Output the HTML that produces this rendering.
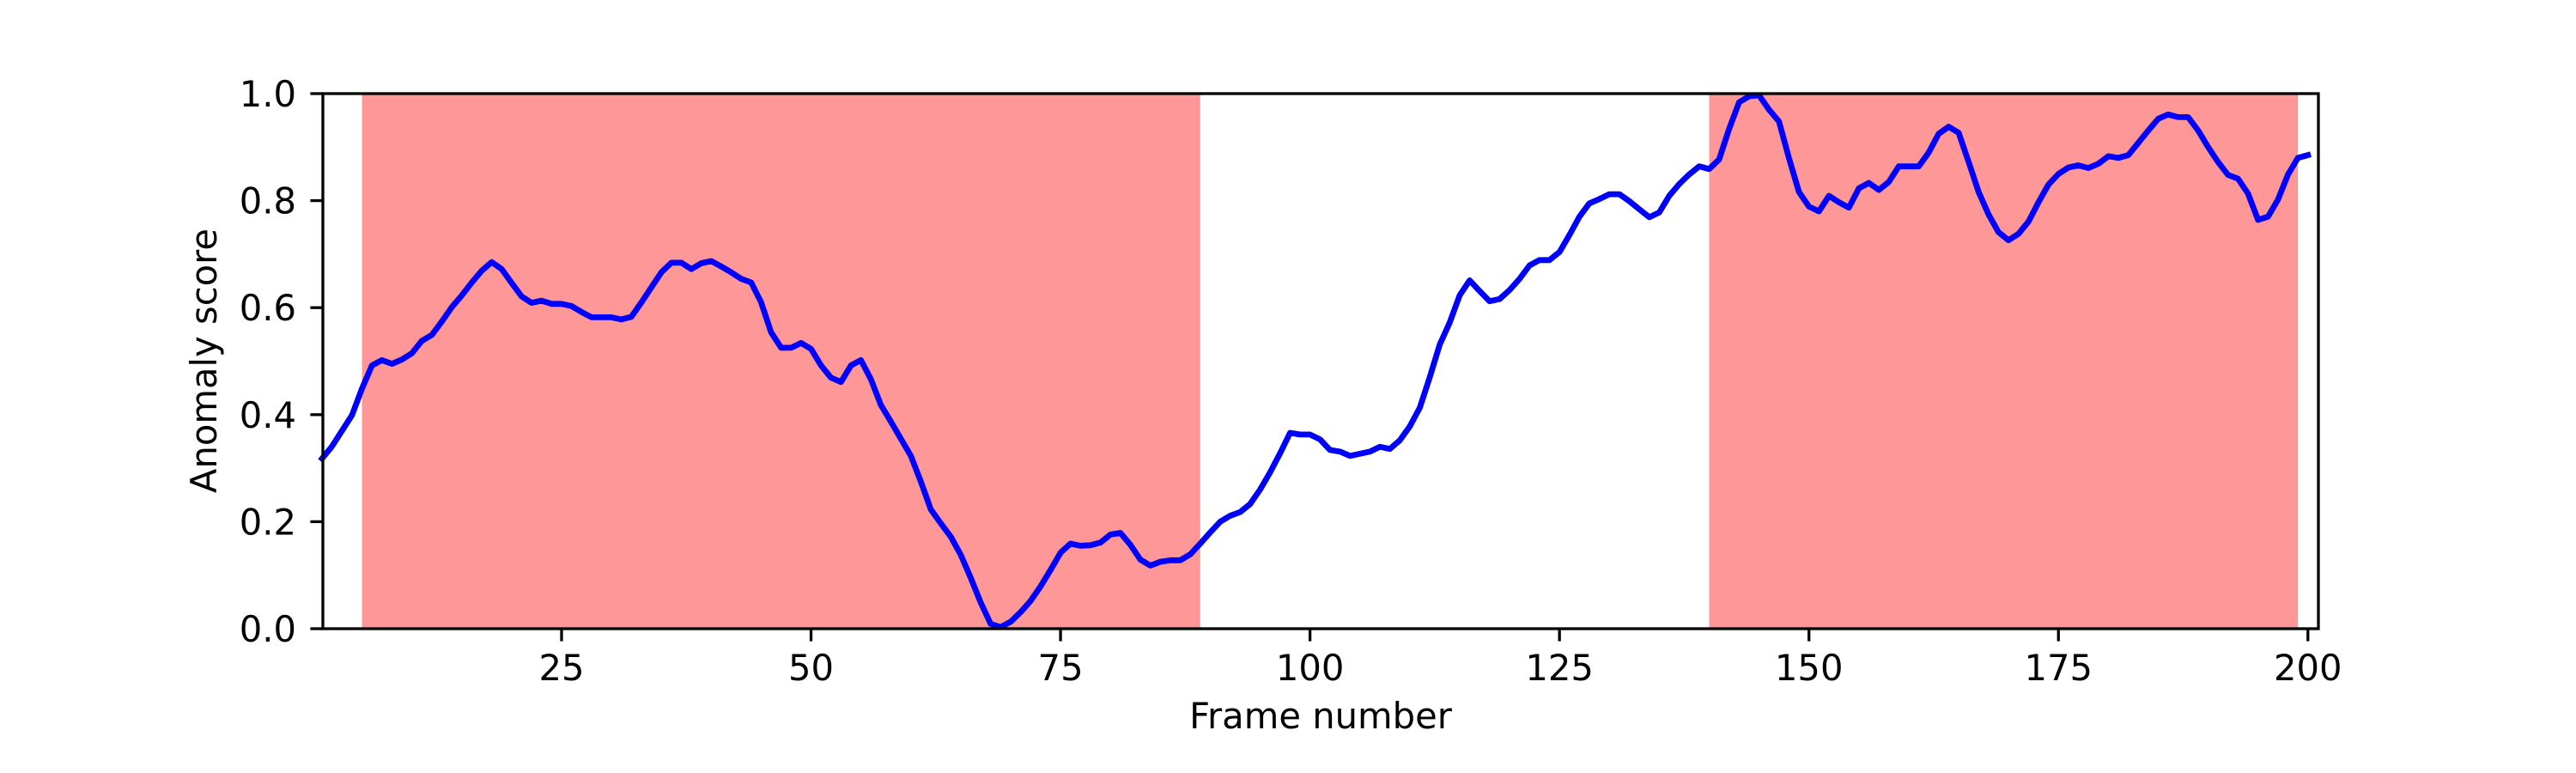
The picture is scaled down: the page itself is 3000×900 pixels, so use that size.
<!DOCTYPE html>
<html><head><meta charset="utf-8"><title>Anomaly score</title>
<style>
html,body{margin:0;padding:0;background:#fff;}
svg{display:block;font-family:"DejaVu Sans","Liberation Sans",sans-serif;}
</style></head>
<body>
<svg id="chart" width="3000" height="900" viewBox="0 0 3000 900" xmlns="http://www.w3.org/2000/svg">
  <rect x="0" y="0" width="3000" height="900" fill="#fff"/>
  <g id="spans"></g>
  <g id="series"></g>
  <g id="axes"></g>
  <text x="1538" y="848" font-size="41.7" text-anchor="middle" fill="#000">Frame number</text>
  <text transform="translate(252,420) rotate(-90)" font-size="41.7" text-anchor="middle" fill="#000">Anomaly score</text>
</svg>
<script>
const scores = [0.318,0.341,0.370,0.399,0.449,0.492,0.502,0.495,0.503,0.515,
0.538,0.549,0.574,0.601,0.623,0.647,0.669,0.685,0.672,0.646,
0.621,0.609,0.613,0.607,0.607,0.603,0.592,0.582,0.582,0.582,
0.578,0.583,0.610,0.638,0.666,0.684,0.684,0.672,0.683,0.687,
0.677,0.666,0.654,0.647,0.610,0.554,0.525,0.525,0.534,0.523,
0.492,0.469,0.461,0.492,0.502,0.466,0.418,0.387,0.355,0.323,
0.275,0.223,0.197,0.172,0.138,0.095,0.049,0.009,0.003,0.013,
0.031,0.052,0.079,0.110,0.142,0.159,0.155,0.156,0.161,0.176,
0.179,0.157,0.129,0.118,0.125,0.128,0.128,0.139,0.159,0.180,
0.200,0.211,0.218,0.233,0.260,0.292,0.328,0.366,0.363,0.363,
0.354,0.334,0.331,0.323,0.327,0.331,0.340,0.336,0.352,0.378,
0.413,0.470,0.531,0.572,0.623,0.651,0.631,0.612,0.616,0.633,
0.654,0.679,0.689,0.689,0.704,0.736,0.770,0.795,0.803,0.812,
0.812,0.799,0.784,0.769,0.778,0.809,0.831,0.849,0.864,0.859,
0.877,0.934,0.984,0.995,0.997,0.970,0.948,0.879,0.816,0.789,
0.780,0.809,0.797,0.787,0.823,0.833,0.820,0.835,0.864,0.864,
0.864,0.890,0.925,0.938,0.927,0.872,0.816,0.774,0.741,0.726,
0.738,0.761,0.797,0.830,0.850,0.862,0.866,0.861,0.869,0.883,
0.880,0.885,0.908,0.931,0.953,0.961,0.956,0.956,0.931,0.900,
0.872,0.848,0.841,0.813,0.764,0.770,0.802,0.849,0.880,0.885];
const frameStart = 1;
const spanStarts = [5, 140];
const spanEnds = [89, 199];
const xTicks = [25, 50, 75, 100, 125, 150, 175, 200];
const yTicks = [0.0, 0.2, 0.4, 0.6, 0.8, 1.0];
const yTickLabels = ["0.0", "0.2", "0.4", "0.6", "0.8", "1.0"];

const NS = "http://www.w3.org/2000/svg";
const L = 376, R = 2700, T = 109, B = 732;
const xMin = 1.08, xMax = 201.05;
function xs(f){ return L + (f - xMin) / (xMax - xMin) * (R - L); }
function ys(v){ return B - v * (B - T); }
function mk(tag, attrs, parent){
  const e = document.createElementNS(NS, tag);
  for (const k in attrs) e.setAttribute(k, attrs[k]);
  parent.appendChild(e);
  return e;
}
const spans = document.getElementById('spans');
for (let i = 0; i < spanStarts.length; i++){
  const r = mk('rect', {x: xs(spanStarts[i]), y: T, width: xs(spanEnds[i]) - xs(spanStarts[i]), height: B - T, fill: '#fe9797'}, spans);
  
  
}
const series = document.getElementById('series');
const pts = scores.map((v, i) => xs(frameStart + i).toFixed(1) + ',' + ys(v).toFixed(1)).join(' ');
const line = mk('polyline', {points: pts, fill: 'none', stroke: '#0000ff', 'stroke-width': 6.8, 'stroke-linejoin': 'round', 'stroke-linecap': 'square'}, series);



const axes = document.getElementById('axes');
const frame = mk('rect', {x: L, y: T, width: R - L, height: B - T, fill: 'none', stroke: '#000', 'stroke-width': 3.3}, axes);


xTicks.forEach(t => {
  const x = xs(t);
  const tk = mk('line', {x1: x, y1: B, x2: x, y2: B + 14.6, stroke: '#000', 'stroke-width': 3.3}, axes);
  
  
  const lb = mk('text', {x: x, y: 792, 'font-size': 41.7, 'text-anchor': 'middle', fill: '#000'}, axes);
  lb.textContent = String(t);
  
  
});
yTicks.forEach((t, i) => {
  const y = ys(t);
  const tk = mk('line', {x1: L - 14.6, y1: y, x2: L, y2: y, stroke: '#000', 'stroke-width': 3.3}, axes);
  
  
  const lb = mk('text', {x: 345, y: y + 15, 'font-size': 41.7, 'text-anchor': 'end', fill: '#000'}, axes);
  lb.textContent = yTickLabels[i];
  
  
});
</script>
</body></html>
